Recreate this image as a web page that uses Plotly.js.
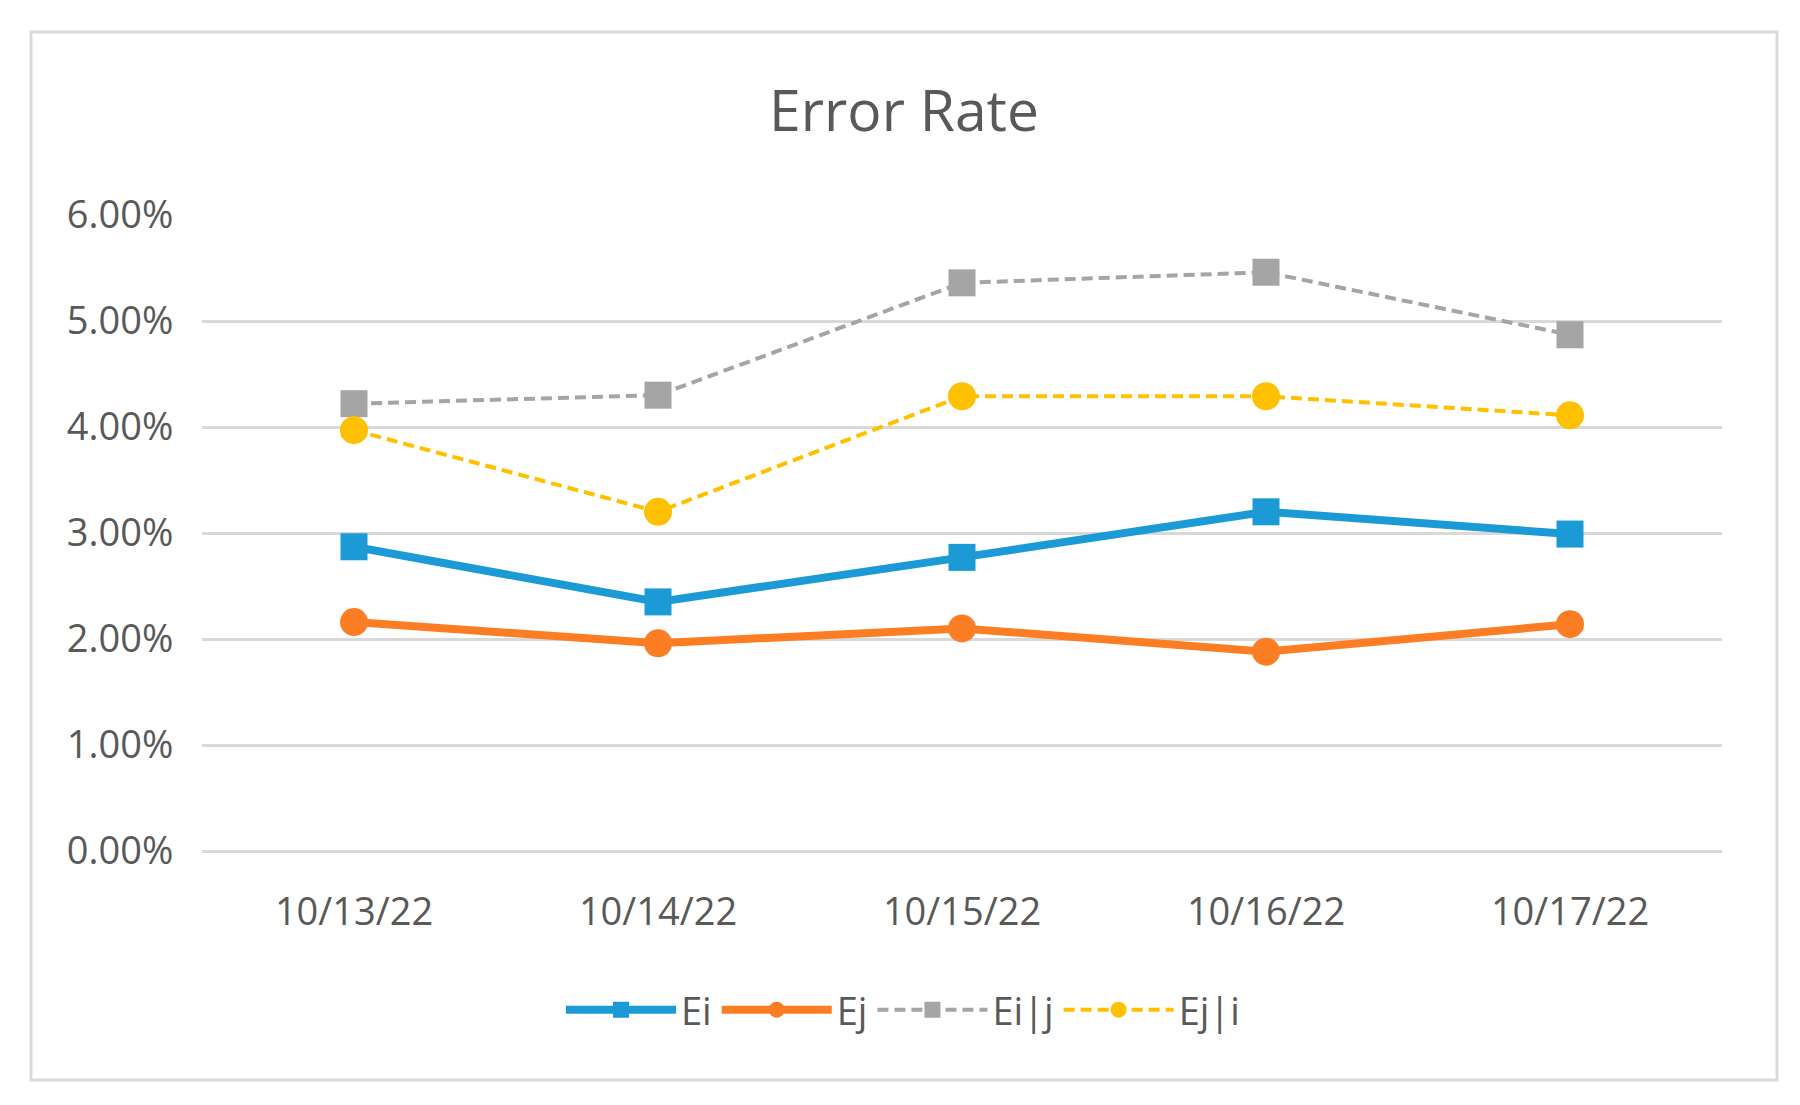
<!DOCTYPE html>
<html>
<head>
<meta charset="utf-8">
<script src="https://cdn.plot.ly/plotly-3.0.1.min.js"></script>
<style>
  html, body { margin: 0; padding: 0; background: #ffffff; }
  #chart { width: 1800px; height: 1105px; }
</style>
</head>
<body>
<div id="chart"></div>
<script>
// ---- data ----
var dates = ["10/13/22", "10/14/22", "10/15/22", "10/16/22", "10/17/22"];
var ei  = [0.0287, 0.0235, 0.0277, 0.0320, 0.0299];
var ej  = [0.0216, 0.0196, 0.0210, 0.0188, 0.0214];
var eij = [0.0422, 0.0430, 0.0536, 0.0546, 0.0487];
var eji = [0.0397, 0.0320, 0.0429, 0.0429, 0.0411];
var seriesNames = ["Ei", "Ej", "Ei|j", "Ej|i"];
var titleText = "Error Rate";

// ---- layout geometry ----
var W = 1800, H = 1105;
var mL = 202, mR = 78, mT = 215, mB = 254;
var plotW = W - mL - mR, plotH = H - mT - mB;
function px2paperX(px) { return (px - mL) / plotW; }
function px2paperY(py) { return (H - mB - py) / plotH; }

var textColor = "#595959";
var font = "'Open Sans', 'Noto Sans', sans-serif";

var traces = [
  { x: dates, y: ei, name: seriesNames[0], type: "scatter", mode: "lines+markers",
    line: { color: "#1b9ad6", width: 8 },
    marker: { symbol: "square", size: 27, color: "#1b9ad6" } },
  { x: dates, y: ej, name: seriesNames[1], type: "scatter", mode: "lines+markers",
    line: { color: "#fd7d25", width: 8 },
    marker: { symbol: "circle", size: 28, color: "#fd7d25" } },
  { x: dates, y: eij, name: seriesNames[2], type: "scatter", mode: "lines+markers",
    line: { color: "#a5a5a5", width: 4, dash: "11px,6px" },
    marker: { symbol: "square", size: 27, color: "#a5a5a5" } },
  { x: dates, y: eji, name: seriesNames[3], type: "scatter", mode: "lines+markers",
    line: { color: "#ffc000", width: 4, dash: "11px,6px" },
    marker: { symbol: "circle", size: 28, color: "#ffc000" } }
];

var layout = {
  width: W, height: H,
  margin: { l: mL, r: mR, t: mT, b: mB, pad: 0 },
  paper_bgcolor: "#ffffff",
  plot_bgcolor: "#ffffff",
  showlegend: true,
  hovermode: false,
  font: { family: font, color: textColor, size: 38 },
  title: {
    text: titleText,
    font: { family: font, size: 57, color: textColor },
    x: 904 / W, xanchor: "center",
    y: 1 - 111 / H, yanchor: "middle",
    xref: "container", yref: "container"
  },
  xaxis: {
    type: "category",
    range: [-0.5, dates.length - 0.5],
    showgrid: false,
    zeroline: false,
    showline: false,
    ticks: "outside", ticklen: 27, tickcolor: "rgba(0,0,0,0)",
    tickfont: { family: font, size: 38, color: textColor },
    fixedrange: true
  },
  yaxis: {
    range: [0, 0.06],
    dtick: 0.01, tick0: 0,
    tickformat: ".2%",
    showgrid: true, gridcolor: "#d9d9d9", gridwidth: 3,
    zeroline: true, zerolinecolor: "#d9d9d9", zerolinewidth: 3,
    showline: false,
    ticks: "outside", ticklen: 20, tickcolor: "rgba(0,0,0,0)",
    tickfont: { family: font, size: 38, color: textColor },
    fixedrange: true
  },
  legend: {
    orientation: "h",
    x: px2paperX(903), xanchor: "center",
    y: px2paperY(1010), yanchor: "middle",
    itemwidth: 110,
    font: { family: font, size: 38, color: textColor },
    bgcolor: "rgba(0,0,0,0)"
  },
  shapes: [
    { type: "rect", xref: "paper", yref: "paper",
      x0: px2paperX(31), x1: px2paperX(1777),
      y0: px2paperY(1080), y1: px2paperY(32),
      line: { color: "#d9d9d9", width: 3 }, fillcolor: "rgba(0,0,0,0)", layer: "below" }
  ]
};

Plotly.newPlot("chart", traces, layout, { displayModeBar: false, staticPlot: true });
</script>
</body>
</html>
